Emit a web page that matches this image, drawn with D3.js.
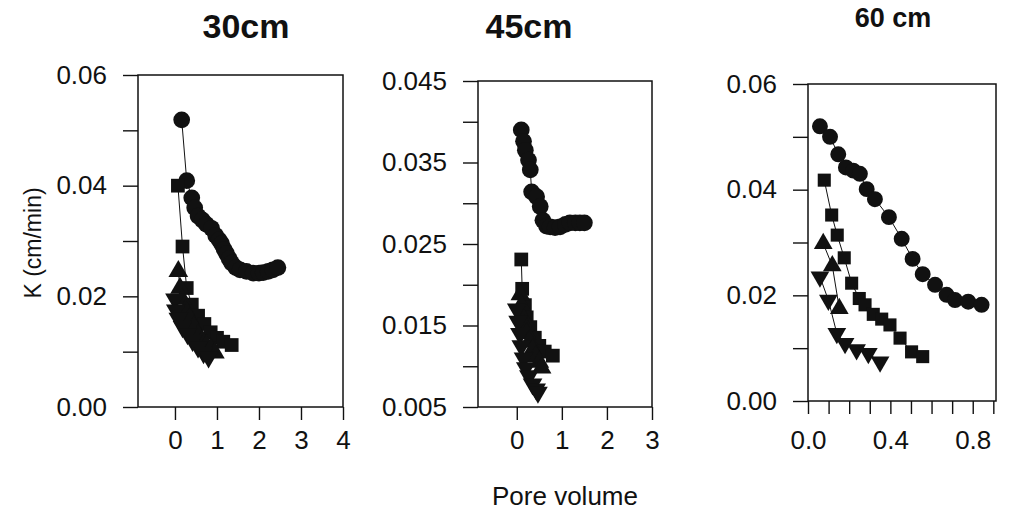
<!DOCTYPE html>
<html>
<head>
<meta charset="utf-8">
<script src="https://cdn.jsdelivr.net/npm/d3@7"></script>
<style>
  body { margin: 0; background: #fff; }
  svg { display: block; font-family: "Liberation Sans", Arial, sans-serif; }
</style>
</head>
<body>
<div id="chart"></div>
<script>
// ---- data: [pore volume, K (cm/min)] ----
const circles30 = [[0.16,0.0519],[0.28,0.0409],[0.40,0.0378],[0.47,0.0360],[0.55,0.0345],[0.65,0.0338],
  [0.75,0.0330],[0.87,0.0323],[0.97,0.0310],[1.05,0.0302],[1.11,0.0295],[1.17,0.0285],[1.23,0.0277],
  [1.29,0.0268],[1.35,0.0260],[1.45,0.0252],[1.55,0.0248],[1.70,0.0245],[1.86,0.0242],[2.00,0.0242],
  [2.10,0.0243],[2.22,0.0245],[2.33,0.0248],[2.45,0.0252]];
const squares30 = [[0.07,0.0400],[0.18,0.0290],[0.28,0.0215],[0.40,0.0185],[0.55,0.0165],[0.70,0.0150],
  [0.85,0.0135],[1.00,0.0125],[1.15,0.0118],[1.35,0.0112]];
const triUp30 = [[0.08,0.0245],[0.12,0.0215],[0.17,0.0195],[0.25,0.0175],[0.35,0.0160],[0.45,0.0145],
  [0.55,0.0130],[0.65,0.0120],[0.75,0.0112],[0.85,0.0105],[0.95,0.0098]];
const triDown30 = [[0.00,0.0195],[0.02,0.0175],[0.08,0.0160],[0.18,0.0145],[0.30,0.0132],[0.42,0.0120],
  [0.55,0.0108],[0.68,0.0098],[0.80,0.0090]];

const circles45 = [[0.10,0.0390],[0.15,0.0376],[0.19,0.0365],[0.26,0.0353],[0.30,0.0341],[0.33,0.0314],
  [0.44,0.0308],[0.52,0.0296],[0.58,0.0279],[0.66,0.0272],[0.74,0.0271],[0.85,0.0270],[0.96,0.0271],
  [1.08,0.0274],[1.18,0.0276],[1.30,0.0276],[1.40,0.0276],[1.50,0.0276]];
const squares45 = [[0.10,0.0231],[0.12,0.0195],[0.18,0.0175],[0.22,0.0160],[0.30,0.0148],[0.40,0.0135],
  [0.50,0.0125],[0.62,0.0118],[0.80,0.0113]];
const triUp45 = [[0.08,0.0188],[0.10,0.0175],[0.13,0.0160],[0.17,0.0150],[0.22,0.0140],[0.28,0.0130],
  [0.35,0.0120],[0.42,0.0112],[0.50,0.0105],[0.55,0.0098]];
const triDown45 = [[0.00,0.0170],[0.03,0.0155],[0.07,0.0140],[0.10,0.0125],[0.15,0.0110],[0.20,0.0098],
  [0.27,0.0088],[0.35,0.0078],[0.43,0.0072],[0.47,0.0068]];

const circles60 = [[0.058,0.0520],[0.107,0.0500],[0.147,0.0467],[0.184,0.0442],[0.220,0.0436],[0.252,0.0430],
  [0.285,0.0401],[0.325,0.0382],[0.393,0.0348],[0.455,0.0307],[0.508,0.0269],[0.557,0.0240],[0.617,0.0220],
  [0.673,0.0201],[0.714,0.0191],[0.778,0.0188],[0.843,0.0182]];
const squares60 = [[0.079,0.0418],[0.115,0.0352],[0.142,0.0314],[0.176,0.0271],[0.212,0.0223],[0.249,0.0194],
  [0.277,0.0182],[0.317,0.0164],[0.358,0.0155],[0.398,0.0144],[0.447,0.0119],[0.503,0.0093],[0.557,0.0084]];
const triUp60 = [[0.074,0.0298],[0.118,0.0256],[0.152,0.0175]];
const triDown60 = [[0.058,0.0235],[0.099,0.0191],[0.140,0.0128],[0.180,0.0109],[0.236,0.0097],[0.293,0.0090],
  [0.350,0.0074]];

// ---- tick values ----
const yMajor30 = [0, 0.02, 0.04, 0.06];
const yMinor30 = [0.01, 0.03, 0.05];
const xTicks30 = [0, 1, 2, 3, 4];
const yMajor45 = [0.005, 0.015, 0.025, 0.035, 0.045];
const yMinor45 = [0.01, 0.02, 0.03, 0.04];
const xTicks45 = [0, 1, 2, 3];
const yMajor60 = [0, 0.02, 0.04, 0.06];
const yMinor60 = [0.01, 0.03, 0.05];
const xTicks60 = [0, 0.1, 0.2, 0.3, 0.4, 0.5, 0.6, 0.7, 0.8, 0.9];
const xLabels60 = [0, 0.4, 0.8];

const W = 1011, H = 515;
const svg = d3.select('#chart').append('svg').attr('width', W).attr('height', H);

// upside-down triangle marker
const triDown = {
  draw(ctx, size) {
    const s = Math.sqrt(size * 4 / Math.sqrt(3));
    const h = s * Math.sqrt(3) / 2;
    ctx.moveTo(-s / 2, -h / 3);
    ctx.lineTo(s / 2, -h / 3);
    ctx.lineTo(0, 2 * h / 3);
    ctx.closePath();
  }
};

const TICK_FONT = 26;
const LABEL_BASE = 449;

function drawPanel(p) {
  const x = d3.scaleLinear().domain(p.xDomain).range([p.left, p.right]);
  const y = d3.scaleLinear().domain(p.yDomain).range([p.bottom, p.top]);
  const g = svg.append('g');

  // y axis: labelled majors + unlabelled minors
  const yAx = g.append('g').attr('transform', `translate(${p.left},0)`)
    .call(d3.axisLeft(y).tickValues(p.yMajor).tickSize(15).tickPadding(16).tickFormat(d3.format(p.yFmt)));
  const yAxMin = g.append('g').attr('transform', `translate(${p.left},0)`)
    .call(d3.axisLeft(y).tickValues(p.yMinor).tickSize(15).tickFormat(''));

  // x axis
  const pad = LABEL_BASE - p.bottom - 13 - 0.71 * TICK_FONT;
  const xAx = g.append('g').attr('transform', `translate(0,${p.bottom})`)
    .call(d3.axisBottom(x).tickValues(p.xTicks).tickSize(13).tickPadding(pad)
      .tickFormat(d => (p.xLabels.some(v => Math.abs(v - d) < 1e-9) ? d3.format(p.xFmt)(d) : '')));

  [yAx, yAxMin, xAx].forEach(a => {
    a.select('.domain').remove();
    a.selectAll('line').attr('stroke', '#111').attr('stroke-width', 1.4);
    a.selectAll('text').attr('fill', '#111').attr('font-size', TICK_FONT)
      .attr('font-family', '"Liberation Sans", Arial, sans-serif');
  });

  // frame
  g.append('rect')
    .attr('x', p.left).attr('y', p.top)
    .attr('width', p.right - p.left).attr('height', p.bottom - p.top)
    .attr('fill', 'none').attr('stroke', '#111').attr('stroke-width', 1.5);

  const line = d3.line().x(d => x(d[0])).y(d => y(d[1]));
  p.series.forEach(s => {
    g.append('path').datum(s.data)
      .attr('d', line).attr('fill', 'none').attr('stroke', '#111').attr('stroke-width', 1);
    g.selectAll(null).data(s.data).join('path')
      .attr('transform', d => `translate(${x(d[0])},${y(d[1])})`)
      .attr('d', d3.symbol().type(s.type).size(s.size))
      .attr('fill', '#111');
  });

  // panel title
  svg.append('text')
    .attr('x', p.titleX).attr('y', p.titleY)
    .attr('text-anchor', 'middle').attr('font-weight', 'bold')
    .attr('font-size', p.titleSize).attr('fill', '#111')
    .text(p.title);
}

const series = (c, s, u, dn, k) => [
  { data: c, type: d3.symbolCircle, size: 210 * k },
  { data: s, type: d3.symbolSquare, size: 180 * k },
  { data: u, type: d3.symbolTriangle, size: 160 * k },
  { data: dn, type: triDown, size: 160 * k }
];

drawPanel({
  left: 138, right: 343, top: 75, bottom: 407,
  xDomain: [-0.88, 4], yDomain: [0, 0.06],
  yMajor: yMajor30, yMinor: yMinor30, yFmt: '.2f',
  xTicks: xTicks30, xLabels: xTicks30, xFmt: 'd',
  series: series(circles30, squares30, triUp30, triDown30, 1.05),
  title: '30cm', titleX: 246, titleY: 38, titleSize: 34
});

drawPanel({
  left: 478, right: 652, top: 81, bottom: 407,
  xDomain: [-0.86, 3], yDomain: [0.005, 0.045],
  yMajor: yMajor45, yMinor: yMinor45, yFmt: '.3f',
  xTicks: xTicks45, xLabels: xTicks45, xFmt: 'd',
  series: series(circles45, squares45, triUp45, triDown45, 1.05),
  title: '45cm', titleX: 529, titleY: 38, titleSize: 34
});

drawPanel({
  left: 808, right: 996, top: 84, bottom: 401,
  xDomain: [0, 0.913], yDomain: [0, 0.06],
  yMajor: yMajor60, yMinor: yMinor60, yFmt: '.2f',
  xTicks: xTicks60, xLabels: xLabels60, xFmt: '.1f',
  series: series(circles60, squares60, triUp60, triDown60, 0.95),
  title: '60 cm', titleX: 893, titleY: 27, titleSize: 27
});

// axis titles
svg.append('text')
  .attr('transform', 'translate(41,243) rotate(-90)')
  .attr('text-anchor', 'middle').attr('font-size', 23).attr('fill', '#111')
  .text('K (cm/min)');

svg.append('text')
  .attr('x', 565).attr('y', 505)
  .attr('text-anchor', 'middle').attr('font-size', 26).attr('fill', '#111')
  .text('Pore volume');
</script>
</body>
</html>
